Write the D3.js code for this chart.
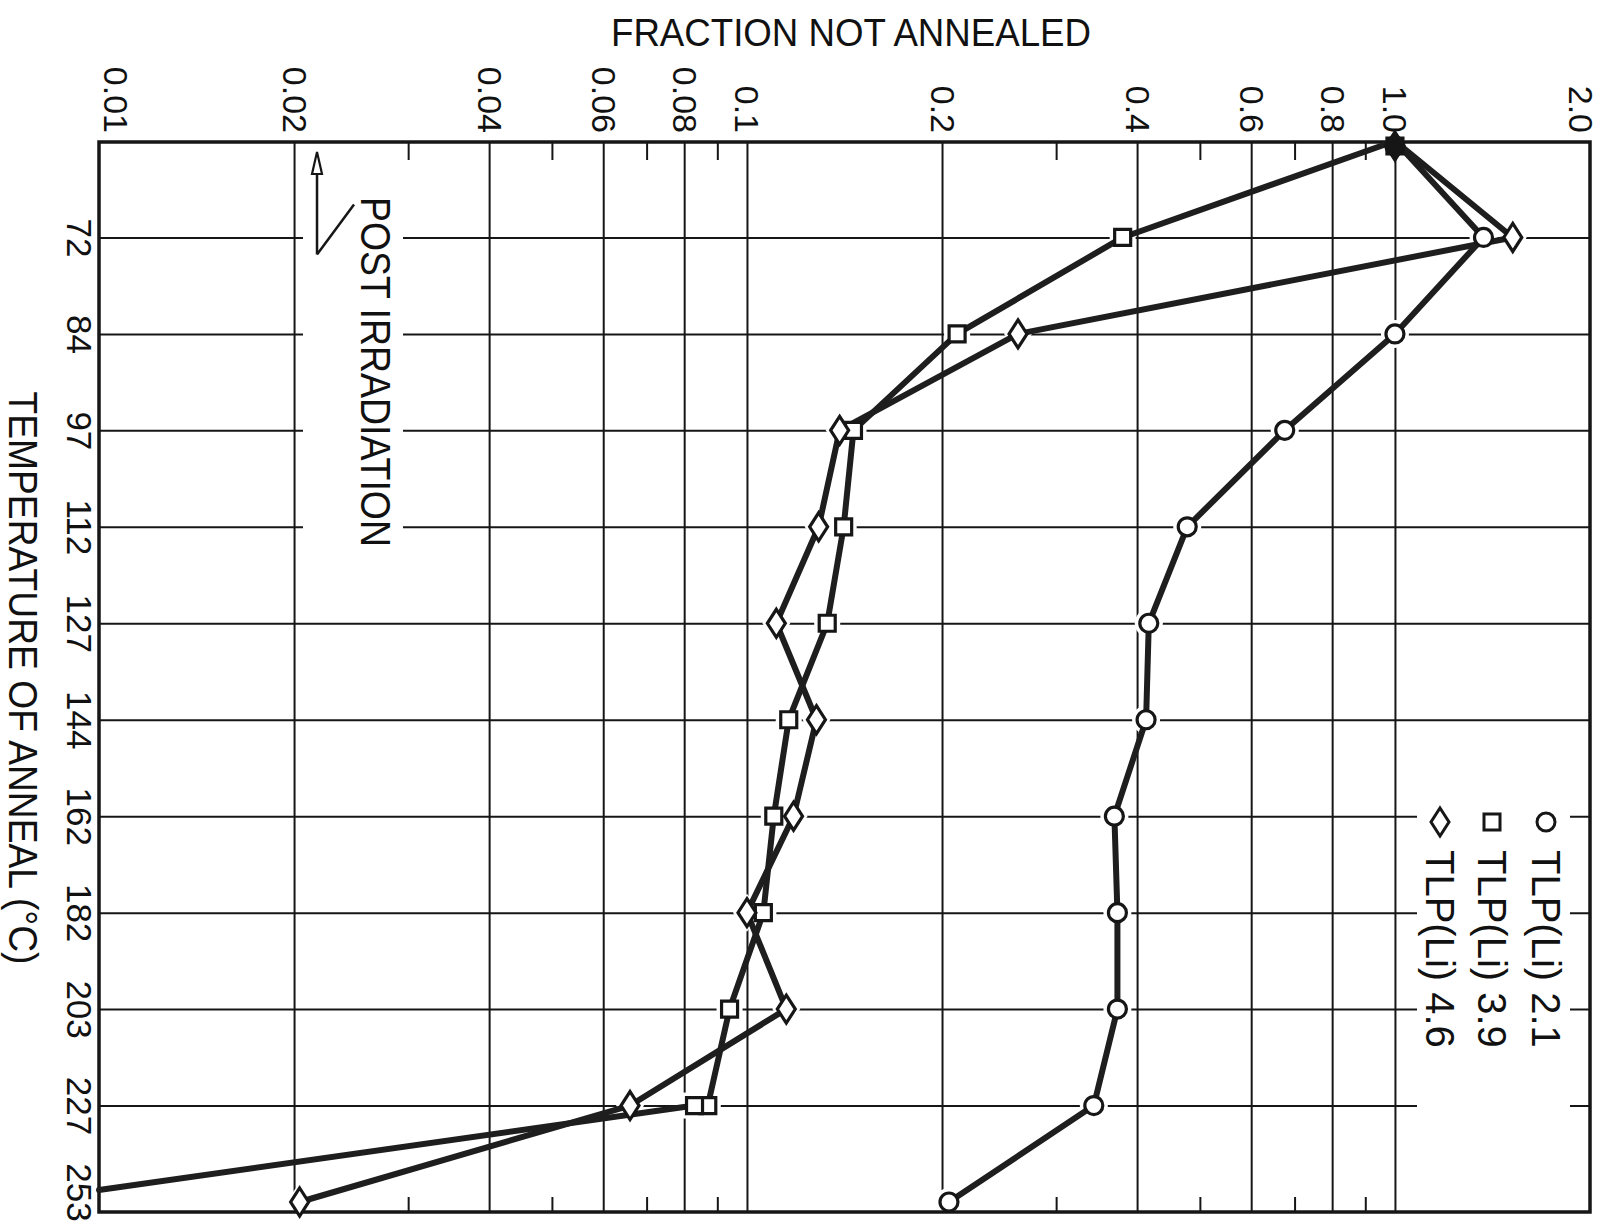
<!DOCTYPE html>
<html>
<head>
<meta charset="utf-8">
<script src="https://cdn.jsdelivr.net/npm/d3@7"></script>
<style>
  html, body { margin: 0; padding: 0; background: #fff; }
  svg { display: block; }
  text { font-family: "Liberation Sans", Arial, sans-serif; fill: #111; }
</style>
</head>
<body>
<script>
// ---------------- DATA ----------------
const categories = ["PI", "72", "84", "97", "112", "127", "144", "162", "182", "203", "227", "253"];
const gridRows = ["72", "84", "97", "112", "127", "144", "162", "182", "203", "227"];

const circleTemps  = ["PI", "72", "84", "97", "112", "127", "144", "162", "182", "203", "227", "253"];
const circleValues = [1.0, 1.37, 1.0, 0.676, 0.478, 0.417, 0.413, 0.369, 0.373, 0.373, 0.343, 0.205];

const squareTemps  = ["PI", "72", "84", "97", "112", "127", "144", "162", "182", "203", "227", "227", "253"];
const squareValues = [1.0, 0.380, 0.211, 0.146, 0.141, 0.133, 0.116, 0.110, 0.106, 0.094, 0.087, 0.083, 0.010];

const diamondTemps  = ["PI", "72", "84", "97", "112", "127", "144", "162", "182", "203", "227", "253"];
const diamondValues = [1.0, 1.52, 0.262, 0.139, 0.129, 0.111, 0.128, 0.118, 0.100, 0.115, 0.066, 0.0204];

const majorTicks = [0.01, 0.02, 0.04, 0.06, 0.08, 0.1, 0.2, 0.4, 0.6, 0.8, 1.0, 2.0];
const majorLabels = ["0.01", "0.02", "0.04", "0.06", "0.08", "0.1", "0.2", "0.4", "0.6", "0.8", "1.0", "2.0"];
const gridValues = [0.02, 0.04, 0.06, 0.08, 0.1, 0.2, 0.4, 0.6, 0.8, 1.0];
const minorTicks = [0.03, 0.05, 0.07, 0.09, 0.3, 0.5, 0.7, 0.9];

const legendLabels = ["TLP(Li) 2.1", "TLP(Li) 3.9", "TLP(Li) 4.6"];
const legendShapes = ["circle", "square", "diamond"];

// ---------------- LAYOUT ----------------
const W = 1618, H = 1231;
const L = 99, R = 1590, T = 142, B = 1212;

const svg = d3.select("body").append("svg").attr("width", W).attr("height", H);
svg.append("rect").attr("width", W).attr("height", H).attr("fill", "#fff");

const x = d3.scaleLog().domain([0.01, 2]).range([L, R]);
const y = d3.scalePoint().domain(categories).range([141, 1202]);

const ink = "#161616";

// vertical grid
const vg = svg.append("g").attr("transform", `translate(0,${T})`)
  .call(d3.axisBottom(x).tickValues(gridValues).tickSize(B - T).tickFormat(""));
vg.select(".domain").remove();
vg.selectAll("line").attr("stroke", ink).attr("stroke-width", 2);

// horizontal grid
const hg = svg.append("g").attr("transform", `translate(${L},0)`)
  .call(d3.axisRight(y).tickValues(gridRows).tickSize(R - L).tickFormat(""));
hg.select(".domain").remove();
hg.selectAll("line").attr("stroke", ink).attr("stroke-width", 2);

// minor ticks top & bottom
const mtTop = svg.append("g").attr("transform", `translate(0,${T})`)
  .call(d3.axisBottom(x).tickValues(minorTicks).tickSize(18).tickFormat(""));
mtTop.select(".domain").remove();
mtTop.selectAll("line").attr("stroke", ink).attr("stroke-width", 2);
const mtBot = svg.append("g").attr("transform", `translate(0,${B})`)
  .call(d3.axisTop(x).tickValues(minorTicks).tickSize(15).tickFormat(""));
mtBot.select(".domain").remove();
mtBot.selectAll("line").attr("stroke", ink).attr("stroke-width", 2);

// white masks behind annotation and legend
svg.append("rect").attr("x", 303).attr("y", 150).attr("width", 100).attr("height", 410).attr("fill", "#fff");
svg.append("rect").attr("x", 1417).attr("y", 785).attr("width", 153).attr("height", 355).attr("fill", "#fff");

// build series
function pts(temps, vals) { return temps.map((t, i) => ({ t, v: vals[i], i })); }
const series = [
  { shape: "circle", data: pts(circleTemps, circleValues) },
  { shape: "square", data: pts(squareTemps, squareValues) },
  { shape: "diamond", data: pts(diamondTemps, diamondValues) }
];
const dmin = x.domain()[0];
const visible = d => d.v > dmin;   // points at the lower bound are drawn as line ends only

function shapePath(shape, cx, cy, grow) {
  const g = grow || 0;
  if (shape === "circle") {
    const r = 9 + g;
    return `M${cx - r},${cy} a${r},${r} 0 1,0 ${2 * r},0 a${r},${r} 0 1,0 ${-2 * r},0 Z`;
  }
  if (shape === "square") {
    const s = 8 + g;
    return `M${cx - s},${cy - s} h${2 * s} v${2 * s} h${-2 * s} Z`;
  }
  const w = 9 + g, h = 14 + g;
  return `M${cx},${cy - h} L${cx + w},${cy} L${cx},${cy + h} L${cx - w},${cy} Z`;
}

// halos (gaps in grid around markers)
series.forEach(s => {
  svg.append("g").selectAll("path").data(s.data.filter(d => d.t !== "PI" && visible(d))).join("path")
    .attr("d", d => shapePath(s.shape, x(d.v), y(d.t), 5))
    .attr("fill", "#fff");
});

// frame
svg.append("rect").attr("x", L).attr("y", T).attr("width", R - L).attr("height", B - T)
  .attr("fill", "none").attr("stroke", ink).attr("stroke-width", 3.5);

// data lines
const line = d3.line().x(d => x(d.v)).y(d => y(d.t) - (visible(d) ? 0 : 12));
series.forEach(s => {
  svg.append("path").datum(s.data).attr("d", line)
    .attr("fill", "none").attr("stroke", "#1e1e1e").attr("stroke-width", 6)
    .attr("stroke-linejoin", "round").attr("stroke-linecap", "round");
});

// markers
series.forEach(s => {
  svg.append("g").selectAll("path").data(s.data.filter(visible)).join("path")
    .attr("d", d => shapePath(s.shape, x(d.v), y(d.t) + (d.t === "PI" ? 5 : 0), 0))
    .attr("fill", d => d.t === "PI" ? ink : "#fff")
    .attr("stroke", ink).attr("stroke-width", 3.2);
});

// top axis labels (rotated)
const ta = svg.append("g").attr("transform", "translate(0,133)")
  .call(d3.axisTop(x).tickValues(majorTicks).tickSize(0).tickFormat((d, i) => majorLabels[i]));
ta.select(".domain").remove();
ta.selectAll("text")
  .attr("x", 0).attr("y", 0).attr("dy", null)
  .attr("text-anchor", "end").attr("dominant-baseline", "central")
  .attr("transform", d => `translate(${d === 0.01 ? 16 : (d === 2 ? -10 : 0)},0) rotate(90)`)
  .style("font-size", "34px").style("font-family", "'Liberation Sans', Arial, sans-serif").attr("fill", "#111");

// left temperature labels (rotated)
const la = svg.append("g").attr("transform", "translate(79,0)")
  .call(d3.axisLeft(y).tickValues(categories.slice(1)).tickSize(0));
la.select(".domain").remove();
la.selectAll("text")
  .attr("x", 0).attr("y", 0).attr("dy", null)
  .attr("text-anchor", "middle").attr("dominant-baseline", "central")
  .attr("transform", d => `translate(0,${d === "253" ? -10 : 0}) rotate(90)`)
  .style("font-size", "35px").style("font-family", "'Liberation Sans', Arial, sans-serif").attr("fill", "#111");

// titles
svg.append("text").attr("x", 851).attr("y", 46).attr("text-anchor", "middle")
  .attr("textLength", 480).attr("lengthAdjust", "spacingAndGlyphs")
  .style("font-size", "38px").text("FRACTION NOT ANNEALED");

svg.append("text").attr("transform", "translate(23,678) rotate(90)")
  .attr("text-anchor", "middle").attr("dominant-baseline", "central")
  .attr("textLength", 573).attr("lengthAdjust", "spacingAndGlyphs")
  .style("font-size", "40px").text("TEMPERATURE OF ANNEAL (°C)");

svg.append("text").attr("transform", "translate(375,372) rotate(90)")
  .attr("text-anchor", "middle").attr("dominant-baseline", "central")
  .attr("textLength", 350).attr("lengthAdjust", "spacingAndGlyphs")
  .style("font-size", "42px").text("POST IRRADIATION");

// arrow annotation
const ax = x(0.0217), ay = y("72") + 17;
svg.append("path").attr("d", `M${ax},${ay} L${ax},${T + 26} M${ax},${ay} L${ax + 37},${ay - 50}`)
  .attr("fill", "none").attr("stroke", ink).attr("stroke-width", 2.5);
svg.append("path").attr("d", `M${ax},${T + 10} L${ax + 5},${T + 32} L${ax - 5},${T + 32} Z`)
  .attr("fill", "#fff").attr("stroke", ink).attr("stroke-width", 2.2);

// legend
const legX = [1546, 1492, 1440];
legendLabels.forEach((lab, i) => {
  svg.append("path").attr("d", shapePath(legendShapes[i], legX[i], 822, 0))
    .attr("fill", "#fff").attr("stroke", ink).attr("stroke-width", 3);
  svg.append("text").attr("transform", `translate(${legX[i]},850) rotate(90)`)
    .attr("text-anchor", "start").attr("dominant-baseline", "central")
    .style("font-size", "40px").text(lab);
});
</script>
</body>
</html>
